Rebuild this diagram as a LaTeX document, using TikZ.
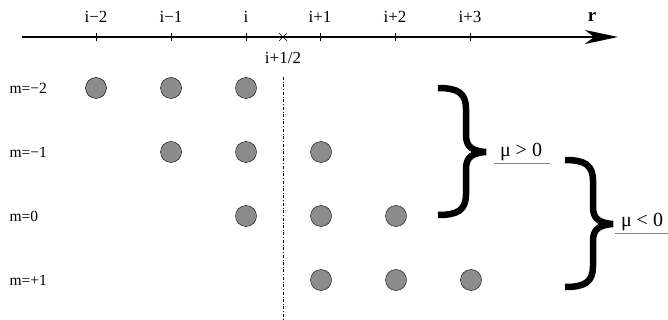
\documentclass[tikz,border=0pt]{standalone}
\usepackage{fontspec}
\setmainfont{Liberation Serif}
\usetikzlibrary{arrows.meta}
\begin{document}
\begin{tikzpicture}[x=1pt,y=-1pt,>={Stealth[length=33pt,width=14pt,inset=9pt]},
  site/.style={circle,draw,thin,fill=black!45,minimum size=21pt,inner sep=0pt},
  rowlbl/.style={anchor=west,font=\fontsize{15.5}{17}\selectfont},
  ticklbl/.style={font=\fontsize{17}{19}\selectfont},
  mulbl/.style={font=\fontsize{20}{22}\selectfont,inner sep=1pt},
  bigbrace/.style={line width=6.5pt,line cap=butt}]
\useasboundingbox (0,0) rectangle (668,320);
% axis
\draw[line width=1.3pt,->](22,37) coordinate(a0)--(618,37) coordinate(a1);
\node[font=\bfseries\fontsize{19}{21}\selectfont] (r) at (592,17) {r};
\foreach \x/\t [count=\k] in {96/i−2,171/i−1,246/i,320/i+1,395/i+2,470/i+3}{
  \draw (\x,33)--(\x,41);
  \node[ticklbl] (t\k) at (\x,17) {\t};
}
\draw (279,33)--(287,41) (279,41)--(287,33);
\node[ticklbl] (half) at (283,58) {i+1/2};
\draw[dash dot,thin] (283,77) coordinate(c0)--(283,320) coordinate(c1);
% rows
\foreach \m/\y/\c in {−2/88/0,−1/152/1,0/216/2,+1/280/3}{
  \node[rowlbl] (m\c) at (6,\y) {m=\m};
  \foreach \j in {0,1,2}
    \node[site] (s\c\j) at ({96+75*(\c+\j)},\y) {};
}
% braces
\foreach \bx/\by in {438/85,565/157}{
  \draw[bigbrace,shift={(\bx,\by)}] (0,3) .. controls (20,3) and (28,8) .. (28,24)
    -- (28,50) .. controls (28,61) and (33,66) .. (48,67)
    .. controls (33,68) and (28,73) .. (28,84) -- (28,109)
    .. controls (28,125) and (20,130) .. (0,130);
}
\node[mulbl,anchor=south] (pos) at (521,162) {μ > 0};
\draw[gray,thick] (494,163)--(550,163);
\node[mulbl,anchor=south] (neg) at (642,232) {μ < 0};
\draw[gray,thick] (615,233)--(668,233);
\end{tikzpicture}
\end{document}
